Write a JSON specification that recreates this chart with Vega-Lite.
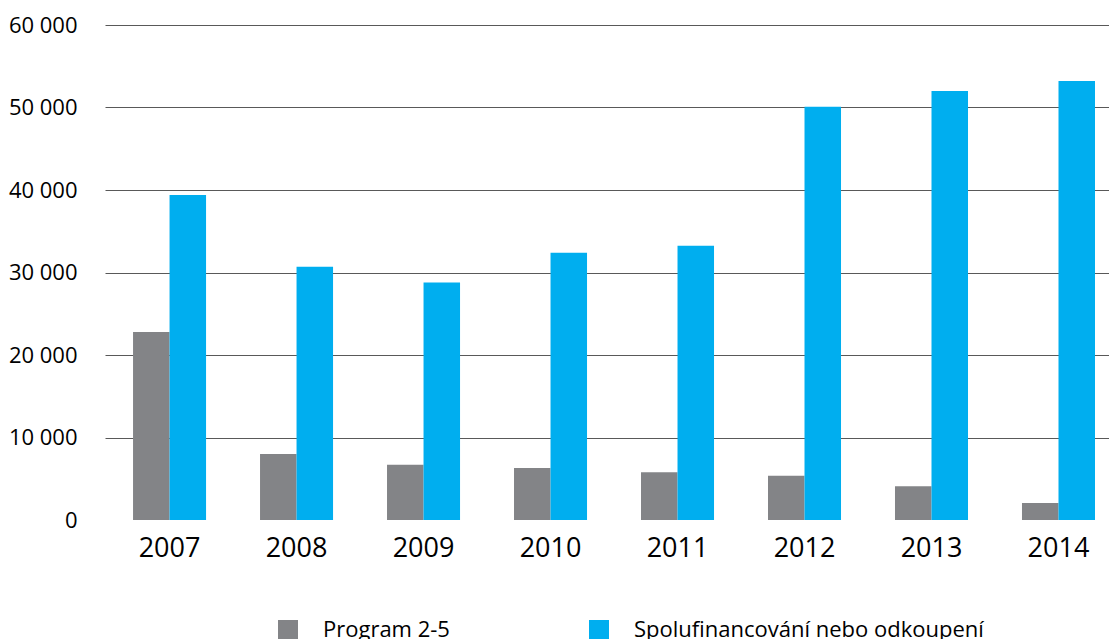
{
  "$schema": "https://vega.github.io/schema/vega-lite/v6.json",
  "width": 1004,
  "height": 495,
  "autosize": "none",
  "padding": {"left": 105, "top": 25, "right": 0, "bottom": 119},
  "background": "white",
  "config": {"view": {"stroke": null}, "font": "Open Sans"},
  "data": {
    "values": [
      {"year": "2007", "series": "Program 2-5", "value": 22800},
      {"year": "2007", "series": "Spolufinancování nebo odkoupení", "value": 39400},
      {"year": "2008", "series": "Program 2-5", "value": 8000},
      {"year": "2008", "series": "Spolufinancování nebo odkoupení", "value": 30700},
      {"year": "2009", "series": "Program 2-5", "value": 6700},
      {"year": "2009", "series": "Spolufinancování nebo odkoupení", "value": 28800},
      {"year": "2010", "series": "Program 2-5", "value": 6300},
      {"year": "2010", "series": "Spolufinancování nebo odkoupení", "value": 32400},
      {"year": "2011", "series": "Program 2-5", "value": 5800},
      {"year": "2011", "series": "Spolufinancování nebo odkoupení", "value": 33250},
      {"year": "2012", "series": "Program 2-5", "value": 5350},
      {"year": "2012", "series": "Spolufinancování nebo odkoupení", "value": 50100},
      {"year": "2013", "series": "Program 2-5", "value": 4100},
      {"year": "2013", "series": "Spolufinancování nebo odkoupení", "value": 52000},
      {"year": "2014", "series": "Program 2-5", "value": 2050},
      {"year": "2014", "series": "Spolufinancování nebo odkoupení", "value": 53200}
    ]
  },
  "mark": {"type": "bar"},
  "encoding": {
    "x": {
      "field": "year",
      "type": "nominal",
      "scale": {"paddingInner": 0.425, "paddingOuter": 0.1655, "align": 0.667},
      "axis": {"title": null, "labelAngle": 0, "ticks": false, "domain": false, "labelFontSize": 27, "labelPadding": 15, "labelColor": "#000000", "grid": false}
    },
    "xOffset": {
      "field": "series",
      "type": "nominal",
      "sort": ["Program 2-5", "Spolufinancování nebo odkoupení"]
    },
    "y": {
      "field": "value",
      "type": "quantitative",
      "scale": {"domain": [0, 60000], "nice": false},
      "axis": {
        "title": null,
        "values": [0, 10000, 20000, 30000, 40000, 50000, 60000],
        "labelExpr": "replace(format(datum.value, ','), ',', ' ')",
        "labelFontSize": 22,
        "labelPadding": 28,
        "labelColor": "#000000",
        "ticks": false,
        "domain": false,
        "grid": true,
        "gridColor": "#595959",
        "gridWidth": 1,
        "gridOpacity": {"condition": {"test": "datum.value === 0", "value": 0}, "value": 1}
      }
    },
    "color": {
      "field": "series",
      "type": "nominal",
      "sort": ["Program 2-5", "Spolufinancování nebo odkoupení"],
      "scale": {"domain": ["Program 2-5", "Spolufinancování nebo odkoupení"], "range": ["#838487", "#00AEEF"]},
      "legend": {
        "title": null,
        "orient": "none",
        "legendX": 172,
        "legendY": 594,
        "direction": "horizontal",
        "symbolType": "square",
        "symbolSize": 400,
        "symbolStrokeWidth": 0,
        "labelFontSize": 22,
        "labelColor": "#000000",
        "labelOffset": 24,
        "columnPadding": 138,
        "padding": 0,
        "labelLimit": 500
      }
    }
  }
}
